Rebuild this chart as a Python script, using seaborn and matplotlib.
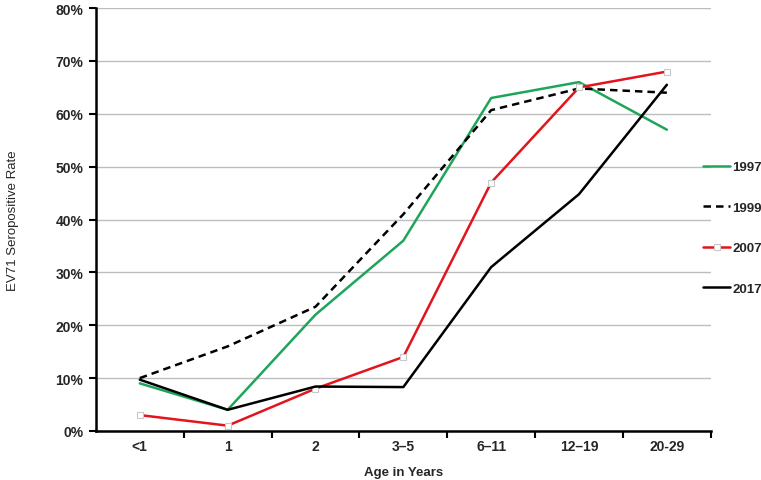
import matplotlib
matplotlib.use("Agg")
import matplotlib.pyplot as plt
import seaborn as sns
import pandas as pd
from matplotlib.ticker import FixedLocator, PercentFormatter

# ── Data ───────────────────────────────────────────────────────────
ages = ['<1', '1', '2', '3\u20135', '6\u201311', '12\u201319', '20-29']
rate_1997 = [9.0, 4.0, 22.0, 36.0, 63.0, 66.0, 57.0]
rate_1999 = [10.0, 16.0, 23.5, 41.0, 60.7, 64.8, 64.0]
rate_2007 = [3.0, 1.0, 8.0, 14.0, 47.0, 65.0, 68.0]
rate_2017 = [9.7, 4.0, 8.4, 8.3, 31.0, 44.8, 65.5]

sns.set_style('white')
plt.rcParams['font.family'] = ['Liberation Sans', 'DejaVu Sans']

fig = plt.figure(figsize=(7.61, 4.81), dpi=100)
ax = fig.add_axes([0.126, 0.102, 0.808, 0.879])

pos = list(range(len(ages)))
series = [
    ('1997', rate_1997, dict(color='#1fa55a', linestyle='-')),
    ('1999', rate_1999, dict(color='black', linestyle=(0, (3, 2)))),
    ('2007', rate_2007, dict(color='#e3141b', linestyle='-', marker='s',
                             markersize=4, markerfacecolor='white',
                             markeredgecolor='#c8c8c8', markeredgewidth=0.8)),
    ('2017', rate_2017, dict(color='black', linestyle='-')),
]
for name, vals, style in series:
    df = pd.DataFrame({'pos': pos, 'rate': vals})
    sns.lineplot(data=df, x='pos', y='rate', ax=ax, label=name,
                 linewidth=1.8, zorder=3, **style)

ax.set_xlim(-0.5, len(ages) - 0.5)
ax.set_ylim(0, 80)
ax.set_yticks(range(0, 81, 10))
ax.yaxis.set_major_formatter(PercentFormatter(decimals=0))
ax.grid(axis='y', color='#bdbdbd', linewidth=1)
ax.set_axisbelow(True)

ax.set_xticks(pos)
ax.set_xticklabels(ages)
ax.xaxis.set_minor_locator(FixedLocator([p + 0.5 for p in pos]))
ax.tick_params(axis='x', which='major', length=0, pad=6)
ax.tick_params(axis='x', which='minor', length=5, width=1.5, color='black',
               direction='out', bottom=True)
ax.tick_params(axis='y', length=5, width=1.5, color='black', direction='out',
               left=True, pad=4)
for lab in ax.get_xticklabels() + ax.get_yticklabels():
    lab.set_fontweight('bold')
    lab.set_fontsize(10)

for side in ['top', 'right']:
    ax.spines[side].set_visible(False)
for side in ['left', 'bottom']:
    ax.spines[side].set_color('black')
    ax.spines[side].set_linewidth(1.8)

ax.set_xlabel('Age in Years', fontsize=9.5, fontweight='bold', labelpad=9)
ax.set_ylabel('EV71 Seropositive Rate', fontsize=9.5, labelpad=26)

ax.legend(loc='center left', bbox_to_anchor=(0.988, 0.48), frameon=False,
          prop={'weight': 'bold', 'size': 9.5}, handlelength=2.0,
          handletextpad=0.2, labelspacing=2.15, borderaxespad=0,
          borderpad=0)

fig.savefig('out.png', dpi=100)
